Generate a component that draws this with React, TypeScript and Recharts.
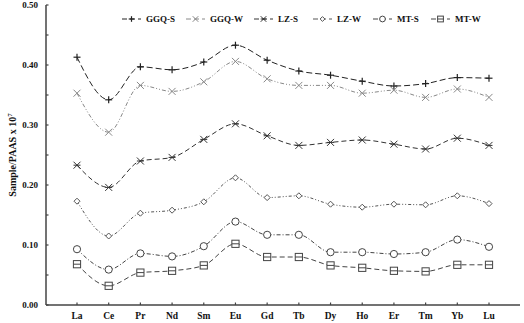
import React from "react";
import { Line, LineChart, XAxis, YAxis } from "recharts";

const elements = ["La", "Ce", "Pr", "Nd", "Sm", "Eu", "Gd", "Tb", "Dy", "Ho", "Er", "Tm", "Yb", "Lu"];

const ggqS = [0.413, 0.342, 0.397, 0.392, 0.405, 0.433, 0.408, 0.39, 0.383, 0.373, 0.365, 0.369, 0.379, 0.378];
const ggqW = [0.353, 0.288, 0.366, 0.356, 0.372, 0.406, 0.377, 0.366, 0.366, 0.353, 0.358, 0.346, 0.36, 0.346];
const lzS = [0.233, 0.196, 0.24, 0.246, 0.276, 0.302, 0.282, 0.266, 0.271, 0.275, 0.268, 0.26, 0.278, 0.266];
const lzW = [0.173, 0.115, 0.153, 0.158, 0.172, 0.212, 0.179, 0.182, 0.168, 0.163, 0.168, 0.167, 0.182, 0.169];
const mtS = [0.093, 0.059, 0.086, 0.081, 0.098, 0.139, 0.117, 0.117, 0.088, 0.088, 0.085, 0.088, 0.109, 0.097];
const mtW = [0.068, 0.032, 0.054, 0.057, 0.066, 0.102, 0.08, 0.08, 0.066, 0.062, 0.057, 0.056, 0.067, 0.067];

const yTicks = [0, 0.05, 0.1, 0.15, 0.2, 0.25, 0.3, 0.35, 0.4, 0.45, 0.5];

const data = elements.map((el, i) => ({
  el,
  ggqS: ggqS[i],
  ggqW: ggqW[i],
  lzS: lzS[i],
  lzW: lzW[i],
  mtS: mtS[i],
  mtW: mtW[i],
}));

const font = "'Liberation Serif', 'Times New Roman', serif";

type Shape = "plus" | "cross" | "star" | "diamond" | "circle" | "square";

function Marker({ cx, cy, shape, color, k = 1 }: { cx: number; cy: number; shape: Shape; color: string; k?: number }) {
  const s = 3.5 * k;
  switch (shape) {
    case "plus":
      return (
        <g stroke={color} strokeWidth={1.2}>
          <line x1={cx - s} y1={cy} x2={cx + s} y2={cy} />
          <line x1={cx} y1={cy - s} x2={cx} y2={cy + s} />
        </g>
      );
    case "cross":
      return (
        <g stroke={color} strokeWidth={1}>
          <line x1={cx - s} y1={cy - s} x2={cx + s} y2={cy + s} />
          <line x1={cx - s} y1={cy + s} x2={cx + s} y2={cy - s} />
        </g>
      );
    case "star":
      return (
        <g stroke={color} strokeWidth={1}>
          <line x1={cx - s} y1={cy - s} x2={cx + s} y2={cy + s} />
          <line x1={cx - s} y1={cy + s} x2={cx + s} y2={cy - s} />
          <line x1={cx - s} y1={cy} x2={cx + s} y2={cy} />
        </g>
      );
    case "diamond":
      return (
        <path
          d={`M${cx},${cy - 3 * k} L${cx + 3 * k},${cy} L${cx},${cy + 3 * k} L${cx - 3 * k},${cy} Z`}
          fill="#fff"
          stroke={color}
          strokeWidth={1}
        />
      );
    case "circle":
      return <circle cx={cx} cy={cy} r={3.6 * k} fill="#fff" stroke={color} strokeWidth={1} />;
    default:
      return (
        <g stroke={color} strokeWidth={1} fill="#fff">
          <rect x={cx - 3.6 * k} y={cy - 3.6 * k} width={7.2 * k} height={7.2 * k} />
          <line x1={cx - 3.6 * k} y1={cy} x2={cx + 3.6 * k} y2={cy} />
        </g>
      );
  }
}

const series: { key: string; name: string; shape: Shape; color: string; dash: string }[] = [
  { key: "ggqS", name: "GGQ-S", shape: "plus", color: "#222", dash: "6 3" },
  { key: "ggqW", name: "GGQ-W", shape: "cross", color: "#888", dash: "4 2 1 2 1 2" },
  { key: "lzS", name: "LZ-S", shape: "star", color: "#333", dash: "5 3" },
  { key: "lzW", name: "LZ-W", shape: "diamond", color: "#555", dash: "3 2 1 2 1 2" },
  { key: "mtS", name: "MT-S", shape: "circle", color: "#444", dash: "4 2 1 2" },
  { key: "mtW", name: "MT-W", shape: "square", color: "#444", dash: "5 3" },
];

const legendLeft = [122, 186, 254, 313, 373, 431];

function XTick(props: any) {
  const { x, y, payload } = props;
  return (
    <g>
      <line x1={x} y1={y} x2={x} y2={y - 2.5} stroke="#444" strokeWidth={1.2} />
      <text x={x} y={y + 14} textAnchor="middle" fontFamily={font} fontWeight="bold" fontSize={9.5} fill="#111">
        {payload.value}
      </text>
    </g>
  );
}

function YTick(props: any) {
  const { x, y, payload, index } = props;
  return (
    <g>
      <line x1={x} y1={y} x2={x + 2.5} y2={y} stroke="#444" strokeWidth={1.2} />
      {index % 2 === 0 && (
        <text x={x - 8} y={y + 3} textAnchor="end" fontFamily={font} fontWeight="bold" fontSize={9} fill="#111">
          {payload.value.toFixed(2)}
        </text>
      )}
    </g>
  );
}

export default function App() {
  return (
    <div style={{ position: "relative", width: 524, height: 323, background: "#fff" }}>
      <style>{"body{margin:0}"}</style>
      <LineChart width={524} height={323} data={data} margin={{ top: 5, right: 4, left: 0, bottom: 0 }}>
        <XAxis
          dataKey="el"
          height={18}
          padding={{ left: 31, right: 31 }}
          tickSize={0}
          tickMargin={0}
          tick={<XTick />}
          stroke="#444"
          strokeWidth={1.5}
          interval={0}
        />
        <YAxis
          width={46}
          domain={[0, 0.5]}
          ticks={yTicks}
          interval={0}
          tickSize={0}
          tickMargin={0}
          tick={<YTick />}
          stroke="#444"
          strokeWidth={1.5}
        />
        {series.map((s) => (
          <Line
            key={s.key}
            dataKey={s.key}
            name={s.name}
            type="monotone"
            stroke={s.color}
            strokeWidth={1}
            strokeDasharray={s.dash}
            isAnimationActive={false}
            dot={(p: any) => <Marker key={`${s.key}-${p.index}`} cx={p.cx} cy={p.cy} shape={s.shape} color={s.color} />}
            activeDot={false}
          />
        ))}
      </LineChart>
      <svg style={{ position: "absolute", left: 0, top: 0 }} width={524} height={323} pointerEvents="none">
        <text transform="translate(16,155) rotate(-90)" textAnchor="middle" fontFamily={font} fontWeight="bold" fontSize={10} fill="#111">
          Sample/PAAS x 10
          <tspan dy={-4} fontSize={7}>7</tspan>
        </text>
        {series.map((s, i) => {
          const x0 = legendLeft[i];
          return (
            <g key={s.key}>
              <line x1={x0} y1={19} x2={x0 + 19} y2={19} stroke={s.color} strokeWidth={1} strokeDasharray="5 3" />
              <Marker cx={x0 + 9.5} cy={19} shape={s.shape} color={s.color} k={0.8} />
              <text x={x0 + 24} y={22} fontFamily={font} fontWeight="bold" fontSize={9} fill="#111">
                {s.name}
              </text>
            </g>
          );
        })}
      </svg>
    </div>
  );
}
